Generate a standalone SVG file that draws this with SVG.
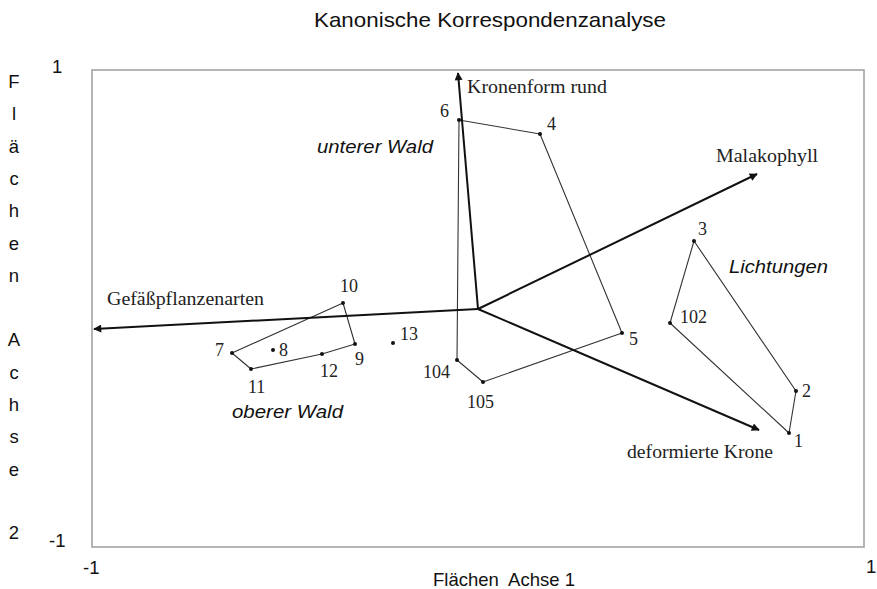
<svg xmlns="http://www.w3.org/2000/svg" width="877" height="589" viewBox="0 0 877 589">
<style>
.ax{font-family:"Liberation Sans",Arial,sans-serif;font-size:18.5px;fill:#111}
.tt{font-family:"Liberation Sans",Arial,sans-serif;font-size:21px;fill:#111}
.tm{font-family:"Liberation Serif","Times New Roman",serif;font-size:18px;fill:#222}
.it{font-family:"Liberation Sans",Arial,sans-serif;font-size:18px;font-style:italic;fill:#111}
.vec{stroke:#111;stroke-width:2;fill:none}
.poly{stroke:#333;stroke-width:1.1;fill:none;stroke-linejoin:round}
.pt{fill:#111}
</style>
<defs>
<marker id="ah" viewBox="0 0 10 10" refX="9" refY="5" markerWidth="5" markerHeight="4" orient="auto" markerUnits="strokeWidth">
<path d="M0,0 L10,5 L0,10 z" fill="#111"/>
</marker>
</defs>
<rect width="877" height="589" fill="#fff"/>
<text class="tt" x="490" y="27" text-anchor="middle" textLength="352" lengthAdjust="spacingAndGlyphs">Kanonische Korrespondenzanalyse</text>
<rect x="92" y="70" width="772" height="477" fill="none" stroke="#a3a3a3" stroke-width="1.6"/>
<g id="ticks">
<text class="ax" x="52" y="73">1</text>
<text class="ax" x="49" y="547">-1</text>
<text class="ax" x="83" y="574">-1</text>
<text class="ax" x="866" y="573">1</text>
<text class="ax" x="433" y="586" xml:space="preserve" style="white-space:pre">Flächen  Achse 1</text>
<text class="ax" text-anchor="middle">
<tspan x="14" y="88">F</tspan><tspan x="14" y="120.3">l</tspan><tspan x="14" y="152.6">ä</tspan><tspan x="14" y="184.9">c</tspan><tspan x="14" y="217.2">h</tspan><tspan x="14" y="249.5">e</tspan><tspan x="14" y="281.8">n</tspan><tspan x="14" y="346.4">A</tspan><tspan x="14" y="378.7">c</tspan><tspan x="14" y="411">h</tspan><tspan x="14" y="443.3">s</tspan><tspan x="14" y="475.6">e</tspan><tspan x="14" y="539">2</tspan>
</text>
</g>
<g id="groups">
<g id="group-unterer-wald">
<polygon class="poly" points="459,120 540,134 622,333 483,382 457,360"/>
<text class="it" x="317" y="153" textLength="116" lengthAdjust="spacingAndGlyphs">unterer Wald</text>
</g>
<g id="group-lichtungen">
<polygon class="poly" points="694,241 670,323 789,433 796,391"/>
<text class="it" x="729" y="273" textLength="99" lengthAdjust="spacingAndGlyphs">Lichtungen</text>
</g>
<g id="group-oberer-wald">
<polygon class="poly" points="343,303 355,344 322,354 251,369 232,353"/>
<text class="it" x="232" y="418" textLength="111" lengthAdjust="spacingAndGlyphs">oberer Wald</text>
</g>
</g>
<g id="connectors">
<line class="vec" x1="478" y1="309" x2="458" y2="73" marker-end="url(#ah)"/>
<line class="vec" x1="478" y1="309" x2="94" y2="329" marker-end="url(#ah)"/>
<line class="vec" x1="478" y1="309" x2="757" y2="174" marker-end="url(#ah)"/>
<line class="vec" x1="478" y1="309" x2="759" y2="430" marker-end="url(#ah)"/>
</g>
<g id="vector-labels">
<text class="tm" x="467" y="93" textLength="140" lengthAdjust="spacingAndGlyphs">Kronenform rund</text>
<text class="tm" x="107" y="305" textLength="157" lengthAdjust="spacingAndGlyphs">Gefäßpflanzenarten</text>
<text class="tm" x="716" y="162" textLength="102" lengthAdjust="spacingAndGlyphs">Malakophyll</text>
<text class="tm" x="627" y="458" textLength="146" lengthAdjust="spacingAndGlyphs">deformierte Krone</text>
</g>
<g id="points">
<g id="p6"><circle class="pt" cx="459" cy="120" r="2"/><text class="tm" x="440" y="117">6</text></g>
<g id="p4"><circle class="pt" cx="540" cy="134" r="2"/><text class="tm" x="547" y="130">4</text></g>
<g id="p5"><circle class="pt" cx="622" cy="333" r="2"/><text class="tm" x="629" y="345">5</text></g>
<g id="p105"><circle class="pt" cx="483" cy="382" r="2"/><text class="tm" x="467" y="408">105</text></g>
<g id="p104"><circle class="pt" cx="457" cy="360" r="2"/><text class="tm" x="423" y="378">104</text></g>
<g id="p3"><circle class="pt" cx="694" cy="241" r="2"/><text class="tm" x="698" y="235">3</text></g>
<g id="p102"><circle class="pt" cx="670" cy="323" r="2"/><text class="tm" x="680" y="323">102</text></g>
<g id="p2"><circle class="pt" cx="796" cy="391" r="2"/><text class="tm" x="802" y="397">2</text></g>
<g id="p1"><circle class="pt" cx="789" cy="433" r="2"/><text class="tm" x="794" y="447">1</text></g>
<g id="p10"><circle class="pt" cx="343" cy="303" r="2"/><text class="tm" x="340" y="292">10</text></g>
<g id="p9"><circle class="pt" cx="355" cy="344" r="2"/><text class="tm" x="355" y="365">9</text></g>
<g id="p12"><circle class="pt" cx="322" cy="354" r="2"/><text class="tm" x="320" y="377">12</text></g>
<g id="p11"><circle class="pt" cx="251" cy="369" r="2"/><text class="tm" x="248" y="393">11</text></g>
<g id="p7"><circle class="pt" cx="232" cy="353" r="2"/><text class="tm" x="215" y="356">7</text></g>
<g id="p8"><circle class="pt" cx="273" cy="350" r="2"/><text class="tm" x="279" y="356">8</text></g>
<g id="p13"><circle class="pt" cx="393" cy="343" r="2"/><text class="tm" x="400" y="340">13</text></g>
</g>
</svg>
